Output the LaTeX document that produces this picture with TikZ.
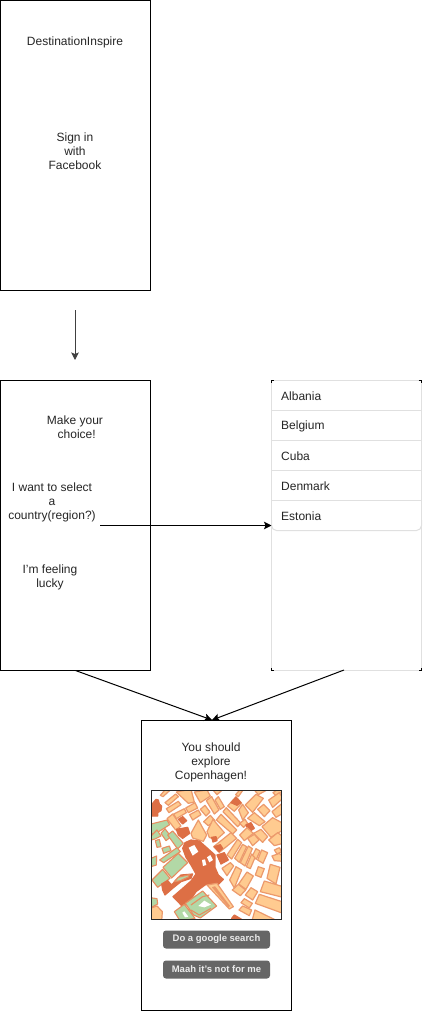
\documentclass[tikz,border=0pt]{standalone}
\usepackage{fontspec}
\setmainfont{Liberation Sans}
\usetikzlibrary{arrows.meta}
\definecolor{ink}{HTML}{262626}
\definecolor{blockfill}{HTML}{FFCB90}
\definecolor{blockedge}{HTML}{EC9A6C}
\definecolor{darkblock}{HTML}{DD6F45}
\definecolor{parkfill}{HTML}{B2D8A6}
\definecolor{rowline}{HTML}{E0E0E0}
\definecolor{btn}{HTML}{666666}
\tikzset{
  screen/.style={draw=black,line width=1pt,fill=white,minimum width=150pt,minimum height=290pt,inner sep=0pt,anchor=north west},
  label/.style={font=\fontsize{12}{14}\selectfont,text=ink,align=center,inner sep=0pt},
  rowtext/.style={font=\fontsize{12}{14}\selectfont,text=ink,anchor=west,inner sep=0pt},
  rowrule/.style={draw=rowline,line width=1pt},
  flow/.style={draw=black,line width=1pt,-{Stealth[length=7.5pt,width=7.5pt,inset=1.5pt]}},
  btnbox/.style={fill=btn,rounded corners=3pt,minimum width=107pt,minimum height=18pt,inner sep=0pt,text=white!92!black,font=\fontsize{9.5}{11}\selectfont\bfseries},
  blk/.style={fill=blockfill,draw=blockedge,line width=1.2pt,line join=round},
  dk/.style={fill=darkblock,draw=darkblock,line width=1.2pt,line join=round},
  prk/.style={fill=parkfill,draw=blockedge!70!darkblock,line width=1.1pt,line join=round},
  hole/.style={fill=white,draw=none}
}
\begin{document}
\begin{tikzpicture}[x=1pt,y=-1pt]
\useasboundingbox (0,0) rectangle (423,1011);
\fill[white] (0,0) rectangle (423,1011);

% screens
\node[screen] (login) at (0,0) {};
\node[screen] (choice) at (0,380) {};
\node[screen] (result) at (141,720) {};

% list panel
\node[screen,draw=rowline] (list) at (271,380) {};
\draw[black,line width=1pt] (271.5,383) -- (271.5,380.5) -- (274,380.5);
\draw[black,line width=1pt] (418.5,380.5) -- (421.5,380.5) -- (421.5,383);
\draw[black,line width=1pt] (271.5,668) -- (271.5,670.5) -- (274,670.5);
\draw[black,line width=1pt] (419,670.5) -- (421.5,670.5) -- (421.5,668);
\draw[rowrule] (271.5,410.5) -- (421.5,410.5);
\draw[rowrule] (271.5,440.5) -- (421.5,440.5);
\draw[rowrule] (271.5,470.5) -- (421.5,470.5);
\draw[rowrule] (271.5,500.5) -- (421.5,500.5);
\draw[rowrule,rounded corners=5pt] (271.5,520) -- (271.5,530.5) -- (421.5,530.5) -- (421.5,520);
\node[rowtext] (albania) at (281,396) {Albania};
\node[rowtext] (belgium) at (281,426) {Belgium};
\node[rowtext] (cuba) at (281,456) {Cuba};
\node[rowtext] (denmark) at (281,486) {Denmark};
\node[rowtext] (estonia) at (281,516) {Estonia};

% texts
\node[label] (title) at (75,42) {DestinationInspire};
\node[label] (signin) at (75,151) {Sign in\\with\\Facebook};
\node[label] (make) at (75,427) {Make your\\\ choice!};
\node[label] (select) at (52,502) {I want to select\\a\\country(region?)};
\node[label] (lucky) at (50,577) {I'm feeling\\lucky};
\node[label] (explore) at (211,762) {You should\\explore\\Copenhagen!};

% connectors
\coordinate (a1) at (75,310);
\coordinate (a2) at (75,360);
\coordinate (b1) at (100,525.5);
\coordinate (b2) at (271.5,525.5);
\coordinate (c1) at (75.5,670.5);
\coordinate (c2) at (344,670);
\coordinate (c3) at (212,720);
\draw[flow,draw=black!75] (a1) -- (a2);
\draw[flow] (b1) -- (b2);
\draw[flow] (c1) -- (c3);
\draw[flow] (c2) -- (c3);

% map
\begin{scope}[shift={(141,780)},x=0.3333pt,y=-0.3333pt]
\clip (31,31) rectangle (422,419);
\fill[white] (31,31) rectangle (422,419);
% left and top
\draw[dk] (35,70)--(45,58)--(52,60)--(55,72)--(62,78)--(60,92)--(50,98)--(50,108)--(30,108)--cycle;
\draw[blk] (58,46)--(72,30)--(90,28)--(66,50)--cycle;
\draw[blk] (72,68)--(104,42)--(112,50)--(82,76)--cycle;
\draw[blk] (106,36)--(150,28)--(160,66)--(142,70)--cycle;
\draw[blk] (160,36)--(198,30)--(208,48)--(178,68)--cycle;
\draw[blk] (216,30)--(244,30)--(228,44)--cycle;
\draw[blk] (284,44)--(296,30)--(306,30)--(292,50)--cycle;
\draw[blk] (340,30)--(378,30)--(352,44)--cycle;
\draw[blk] (396,38)--(410,28)--(424,28)--(424,36)--(404,46)--cycle;
\draw[blk] (76,86)--(112,64)--(120,74)--(84,98)--cycle;
\draw[blk] (134,84)--(162,68)--(170,84)--(142,98)--cycle;
\draw[blk] (98,102)--(130,86)--(136,98)--(106,116)--cycle;
\draw[blk] (146,104)--(172,90)--(180,104)--(155,120)--cycle;
\draw[blk] (78,116)--(95,102)--(120,138)--(104,150)--cycle;
\draw[dk] (112,118)--(125,110)--(137,122)--(125,132)--cycle;
\draw[dk] (106,148)--(140,142)--(146,160)--(125,175)--(112,165)--cycle;
\draw[blk] (150,160)--(172,120)--(197,165)--(187,184)--(155,174)--cycle;
\draw[blk] (178,88)--(192,76)--(207,96)--(195,108)--cycle;
\draw[blk] (196,62)--(212,50)--(234,90)--(220,102)--cycle;
\draw[blk] (222,60)--(232,50)--(250,80)--(238,88)--cycle;
\draw[blk] (188,125)--(208,106)--(222,122)--(202,137)--cycle;
\draw[blk] (198,155)--(216,118)--(250,158)--(225,180)--(205,172)--cycle;
\draw[dk] (212,172)--(225,170)--(228,182)--(216,186)--cycle;
% upper right
\draw[blk] (226,120)--(240,103)--(287,150)--(275,162)--cycle;
\draw[blk] (246,95)--(256,83)--(300,130)--(290,140)--cycle;
\draw[blk] (260,78)--(285,50)--(302,70)--(280,94)--cycle;
\draw[dk] (270,68)--(285,52)--(300,68)--(288,76)--cycle;
\draw[blk] (293,90)--(305,73)--(322,98)--(305,120)--cycle;
\draw[blk] (313,75)--(345,43)--(367,55)--(335,97)--cycle;
\draw[blk] (350,88)--(368,73)--(387,92)--(370,110)--cycle;
\draw[blk] (383,60)--(415,38)--(426,55)--(395,82)--cycle;
\draw[blk] (393,95)--(426,68)--(426,100)--(405,112)--cycle;
\draw[blk] (320,115)--(340,98)--(372,125)--(355,137)--cycle;
\draw[blk] (296,130)--(312,118)--(320,130)--(308,142)--cycle;
\draw[dk] (315,135)--(330,128)--(340,145)--(325,155)--cycle;
\draw[blk] (296,165)--(318,143)--(337,160)--(310,182)--cycle;
\draw[blk] (338,160)--(360,148)--(380,170)--(365,187)--cycle;
\draw[blk] (363,140)--(395,113)--(426,130)--(426,150)--(390,172)--cycle;
\draw[blk] (383,180)--(410,158)--(426,170)--(426,190)--(400,197)--cycle;
\draw[blk] (320,175)--(340,163)--(354,180)--(335,197)--cycle;
\draw[blk] (393,228)--(415,220)--(426,230)--(426,244)--(400,242)--cycle;
\draw[blk] (400,210)--(415,203)--(422,215)--(408,222)--cycle;
% radial strips
\draw[blk] (218,200)--(270,158)--(287,175)--(235,217)--cycle;
\draw[dk] (220,200)--(238,194)--(245,205)--(233,215)--cycle;
\draw[blk] (258,225)--(290,178)--(302,188)--(272,237)--cycle;
\draw[blk] (281,235)--(305,193)--(317,200)--(295,247)--cycle;
\draw[blk] (298,248)--(322,198)--(334,206)--(312,258)--cycle;
\draw[blk] (316,260)--(332,222)--(344,228)--(328,266)--cycle;
\draw[blk] (335,226)--(345,206)--(357,213)--(346,238)--cycle;
\draw[blk] (350,240)--(362,210)--(380,218)--(366,250)--cycle;
% lower right
\draw[blk] (243,265)--(268,248)--(278,258)--(258,287)--cycle;
\draw[blk] (266,300)--(285,260)--(302,270)--(280,324)--cycle;
\draw[blk] (293,312)--(318,276)--(337,288)--(315,328)--cycle;
\draw[blk] (343,285)--(352,260)--(370,266)--(360,292)--cycle;
\draw[blk] (378,295)--(388,253)--(417,262)--(405,312)--cycle;
\draw[blk] (274,330)--(292,313)--(314,330)--(298,347)--cycle;
\draw[blk] (313,345)--(330,323)--(350,335)--(335,360)--cycle;
\draw[blk] (358,335)--(370,303)--(426,320)--(426,352)--cycle;
\draw[blk] (343,370)--(355,343)--(426,366)--(426,400)--cycle;
\draw[blk] (300,368)--(310,356)--(334,370)--(325,384)--cycle;
\draw[blk] (294,390)--(305,378)--(332,390)--(325,407)--cycle;
\draw[blk] (333,422)--(342,390)--(412,424)--cycle;
\draw[dk] (272,415)--(280,405)--(312,424)--(272,424)--cycle;
\draw[blk] (28,385)--(48,378)--(64,395)--(62,424)--(28,424)--cycle;
% central mass
\draw[dk] (125,205)--(132,188)--(150,180)--(175,183)--(222,225)--(222,262)--(232,285)--(247,298)--(228,318)--(195,313)--(165,335)--(150,358)--(125,380)--(96,350)--(125,325)--(150,303)--(165,282)--(150,255)--(135,232)--cycle;
\fill[hole] (143,203)--(160,195)--(172,215)--(155,227)--cycle;
\fill[hole] (198,232)--(208,225)--(216,240)--(205,247)--cycle;
\fill[hole] (183,240)--(192,238)--(196,255)--(186,258)--cycle;
\draw[dk] (228,225)--(250,218)--(262,240)--(240,252)--cycle;
\draw[blk] (198,315)--(228,310)--(277,380)--(265,387)--cycle;
\draw[blk,fill=darkblock!55!blockfill,line width=0.6pt] (214,322)--(222,320)--(266,378)--(262,380)--cycle;
% parks
\draw[prk] (30,132)--(78,120)--(86,134)--(42,162)--(30,160)--cycle;
\draw[prk] (30,168)--(48,150)--(60,168)--(42,177)--(30,180)--cycle;
\draw[prk] (60,160)--(72,146)--(90,170)--(75,182)--cycle;
\draw[prk] (80,165)--(95,153)--(127,190)--(110,207)--cycle;
\draw[prk] (43,182)--(55,178)--(60,200)--(48,202)--cycle;
\draw[prk] (63,205)--(85,198)--(90,212)--(68,220)--cycle;
\draw[prk] (56,240)--(108,203)--(118,215)--(68,248)--cycle;
\draw[prk] (30,235)--(47,228)--(46,255)--(30,260)--cycle;
\draw[prk] (66,262)--(112,220)--(140,248)--(92,294)--cycle;
\draw[prk] (33,300)--(65,268)--(87,295)--(50,322)--cycle;
\draw[dk] (62,312)--(80,302)--(92,315)--(105,300)--(120,285)--(155,282)--(150,295)--(120,305)--(95,325)--(72,345)--(65,330)--cycle;
\draw[prk] (100,305)--(112,292)--(145,284)--(142,291)--(118,302)--cycle;
\draw[prk] (28,353)--(48,356)--(50,372)--(28,384)--cycle;
\draw[prk] (133,370)--(185,333)--(227,378)--(178,414)--(158,405)--cycle;
\fill[hole] (172,378)--(190,362)--(210,374)--(190,382)--cycle;
\draw[prk,fill=none] (150,375)--(185,350)--(205,345);
\draw[prk,fill=none] (150,390)--(175,405)--(210,385);
\draw[prk] (100,395)--(130,373)--(162,415)--(118,424)--cycle;
\fill[hole] (124,398)--(130,394)--(142,410)--(132,412)--cycle;
\end{scope}
\draw[black!85,line width=1pt] (151.5,790.5) rectangle (281.5,919.5);
\node[draw=none,inner sep=0pt,minimum width=130pt,minimum height=129pt] (map) at (216.5,855) {};

% buttons
\node[btnbox] (search) at (216.5,939.5) {Do a google search};
\node[btnbox] (reject) at (216.5,969.5) {Maah it's not for me};
\end{tikzpicture}
\end{document}
